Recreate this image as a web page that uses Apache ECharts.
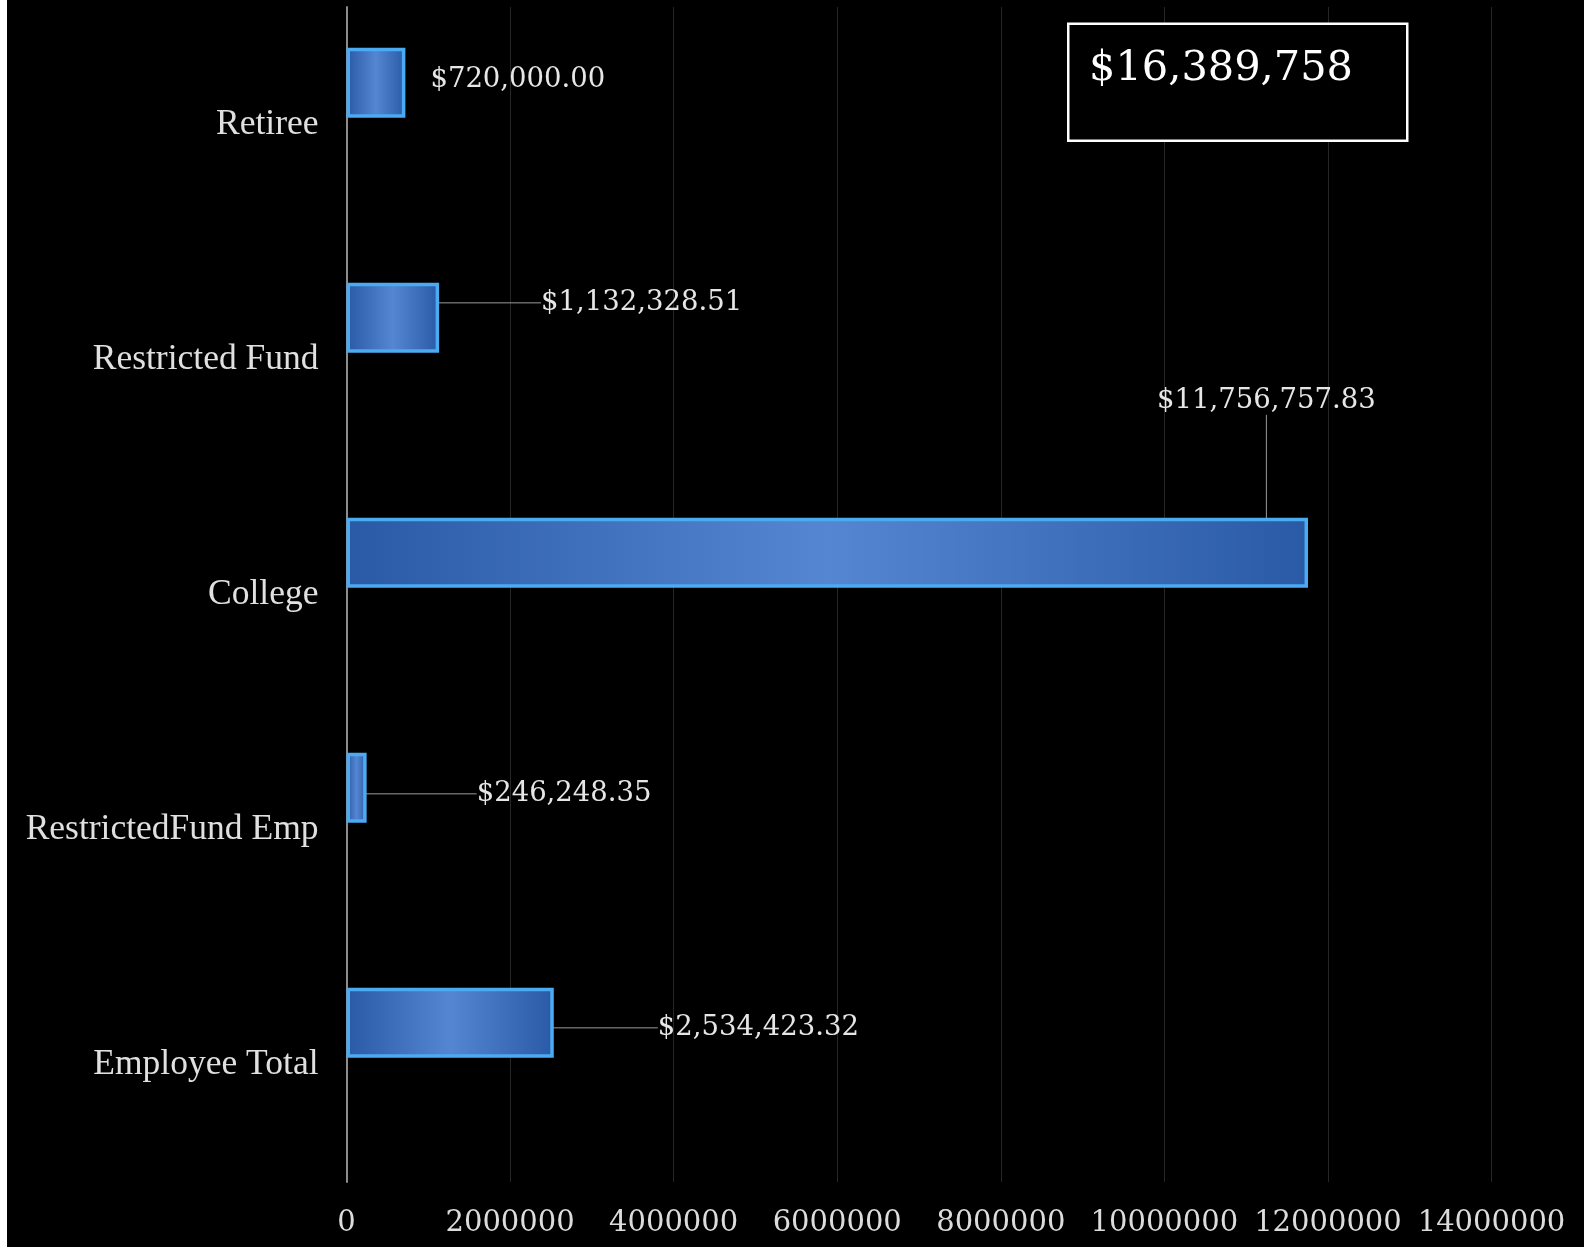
<!DOCTYPE html>
<html>
<head>
<meta charset="utf-8">
<script src="https://cdn.jsdelivr.net/npm/echarts@6/dist/echarts.min.js"></script>
<style>
html,body{margin:0;padding:0;background:#ffffff;width:1584px;height:1249px;overflow:hidden;}
#chart{position:absolute;left:7px;top:0;width:1577px;height:1247px;}
</style>
</head>
<body>
<div id="chart"></div>
<script>
// ---- data ----
const categories = ['Retiree', 'Restricted Fund', 'College', 'RestrictedFund Emp', 'Employee Total'];
const values = [720000.00, 1132328.51, 11756757.83, 246248.35, 2534423.32];
const xTicks = [0, 2000000, 4000000, 6000000, 8000000, 10000000, 12000000, 14000000];

// ---- label placement (layout only) ----
const labelShift = [
  { dx: 6, dy: -3 },
  { dx: 83, dy: -15 },
  { dx: -170, dy: -152 },
  { dx: 91, dy: 6 },
  { dx: 85, dy: 5 }
];
const showLeader = [false, true, true, true, true];

const total = values.reduce((a, b) => a + b, 0);
const totalText = '$' + Math.round(total).toLocaleString('en-US');
const fmtMoney = v => '$' + v.toLocaleString('en-US', { minimumFractionDigits: 2, maximumFractionDigits: 2 });

const chart = echarts.init(document.getElementById('chart'));
const option = {
  backgroundColor: '#000000',
  animation: false,
  grid: { left: 339.5, right: 92.5, top: 7, bottom: 65, containLabel: false },
  xAxis: {
    type: 'value',
    min: xTicks[0],
    max: xTicks[xTicks.length - 1],
    interval: xTicks[1] - xTicks[0],
    axisLine: { show: false },
    axisTick: { show: false },
    splitLine: { show: true, lineStyle: { color: '#262626', width: 1 } },
    axisLabel: {
      color: '#dcdcdc',
      fontFamily: 'DejaVu Serif',
      fontSize: 29,
      margin: 27,
      formatter: v => String(v)
    }
  },
  yAxis: {
    type: 'category',
    data: categories,
    inverse: true,
    axisLine: { show: true, lineStyle: { color: '#8c8c8c', width: 2 } },
    axisTick: { show: false },
    splitLine: { show: false },
    axisLabel: {
      color: '#e0e0e0',
      fontFamily: 'Liberation Serif',
      fontSize: 35.5,
      margin: 28
    }
  },
  series: [
    {
      type: 'bar',
      data: values.map((v, i) => ({ value: v, labelLine: { show: showLeader[i] } })),
      barWidth: 70,
      barGap: '19%',
      itemStyle: {
        color: {
          type: 'linear', x: 0, y: 0, x2: 1, y2: 0,
          colorStops: [
            { offset: 0, color: '#2a5aa6' },
            { offset: 0.5, color: '#5586d2' },
            { offset: 1, color: '#2a5aa6' }
          ]
        },
        borderColor: '#4aaaf2',
        borderWidth: 3.5
      },
      label: {
        show: true,
        position: 'right',
        distance: 5,
        padding: [0, 0, 0, 14],
        color: '#e6e6e6',
        fontFamily: 'DejaVu Serif',
        fontSize: 27.5,
        formatter: p => fmtMoney(p.value)
      },
      labelLine: {
        show: true,
        lineStyle: { color: '#9a9a9a', width: 1 }
      },
      labelLayout: p => labelShift[p.dataIndex]
    },
    {
      type: 'bar',
      data: categories.map(() => '-'),
      barWidth: 70,
      silent: true
    }
  ],
  graphic: [
    {
      type: 'rect',
      left: 1060,
      top: 22.5,
      shape: { width: 339, height: 117 },
      style: { fill: '#000000', stroke: '#ffffff', lineWidth: 2.5 },
      z: 100
    },
    {
      type: 'text',
      left: 1082,
      top: 48,
      style: {
        text: totalText,
        fill: '#ffffff',
        font: '41.5px "DejaVu Serif"'
      },
      z: 101
    }
  ]
};
chart.setOption(option);
</script>
</body>
</html>
